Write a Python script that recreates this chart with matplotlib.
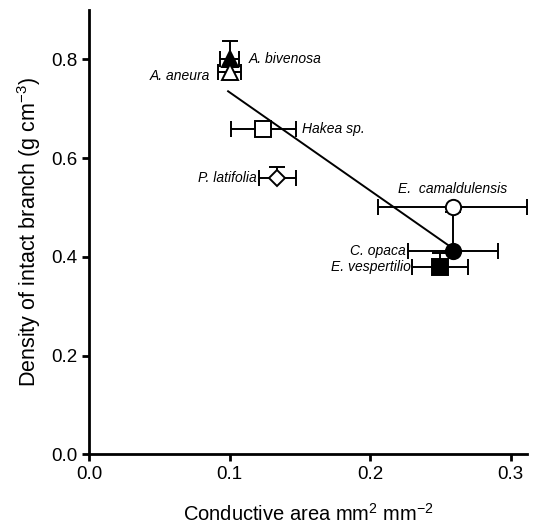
import numpy as np
import matplotlib
matplotlib.use('Agg')
import matplotlib.pyplot as plt

plt.rcParams['font.family'] = ['Liberation Sans', 'DejaVu Sans']
plt.rcParams['mathtext.fontset'] = 'custom'
plt.rcParams['mathtext.rm'] = 'Liberation Sans'
plt.rcParams['mathtext.it'] = 'Liberation Sans:italic'

species = ['A. bivenosa', 'A. aneura', 'Hakea sp.', 'P. latifolia',
           'E.  camaldulensis', 'C. opaca', 'E. vespertilio']
cond_area = [0.100, 0.100, 0.124, 0.134, 0.259, 0.259, 0.250]
cond_err = [0.007, 0.008, 0.023, 0.013, 0.053, 0.032, 0.020]
density = [0.800, 0.775, 0.660, 0.560, 0.500, 0.412, 0.380]
dens_err = [0.038, 0.010, 0.000, 0.022, 0.000, 0.078, 0.028]

markers = ['^', '^', 's', 'D', 'o', 'o', 's']
filled = [True, False, False, False, False, True, True]
msizes = [11, 11, 11, 8, 11, 11, 11]
# label offsets (points) and alignment
offsets = [(14, 0), (-14, -3), (28, 0), (-15, 0), (0, 13), (-34, 0), (-21, 0)]
haligns = ['left', 'right', 'left', 'right', 'center', 'right', 'right']

fig = plt.figure(figsize=(5.36, 5.30), dpi=100)
ax = fig.add_axes([0.166, 0.143, 0.818, 0.838])

# regression line
slope, icpt = np.polyfit(cond_area, density, 1)
xl = np.array([min(cond_area) - 0.001, max(cond_area)])
ax.plot(xl, slope * xl + icpt, color='black', lw=1.4, zorder=2)

for i in range(len(species)):
    x, y = cond_area[i], density[i]
    # x error bars (both sides)
    ax.errorbar(x, y, xerr=cond_err[i], fmt='none', ecolor='black',
                elinewidth=1.4, capsize=6, capthick=1.4, zorder=3)
    # y error bars (upward only)
    if dens_err[i] > 0:
        ax.errorbar(x, y, yerr=[[0], [dens_err[i]]], fmt='none', ecolor='black',
                    elinewidth=1.4, capsize=6, capthick=1.4, zorder=3)
    ax.plot(x, y, marker=markers[i], ms=msizes[i], mec='black', mew=1.4,
            mfc='black' if filled[i] else 'white', ls='none', zorder=4)
    ax.annotate(species[i], (x, y), xytext=offsets[i], textcoords='offset points',
                ha=haligns[i], va='center', fontsize=10, style='italic')

ax.set_xlim(0, 0.312)
ax.set_ylim(0, 0.9)
ax.set_xticks([0.0, 0.1, 0.2, 0.3])
ax.set_yticks([0.0, 0.2, 0.4, 0.6, 0.8])
ax.set_xticklabels(['0.0', '0.1', '0.2', '0.3'])
ax.set_yticklabels(['0.0', '0.2', '0.4', '0.6', '0.8'])
ax.tick_params(labelsize=13.5, width=2, length=5, direction='out')
for s in ['top', 'right']:
    ax.spines[s].set_visible(False)
for s in ['left', 'bottom']:
    ax.spines[s].set_linewidth(2)

ax.set_xlabel('Conductive area mm$^{2}$ mm$^{-2}$', fontsize=14.5, labelpad=14)
ax.set_ylabel('Density of intact branch (g cm$^{-3}$)', fontsize=15.5, labelpad=6)

fig.savefig('out.png', dpi=100)
